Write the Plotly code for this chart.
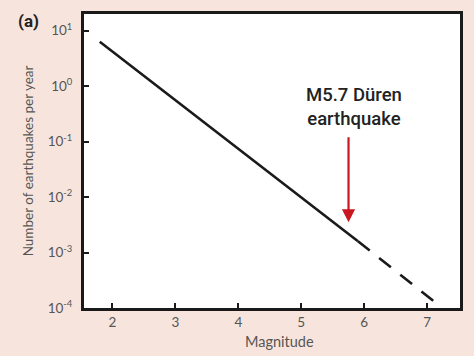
import numpy as np
import plotly.graph_objects as go

# Data (Gutenberg-Richter relation)
mag_solid = [1.8, 5.9]
rate_solid = [6.3, 0.0016]
mag_dash = [5.9, 7.13]
rate_dash = [0.0016, 0.000125]

x_ticks = [2, 3, 4, 5, 6, 7]
y_tickvals = [1e-4, 1e-3, 1e-2, 1e-1, 1e0, 1e1]
y_ticktext = ["10<sup>-4</sup>", "10<sup>-3</sup>", "10<sup>-2</sup>",
              "10<sup>-1</sup>", "10<sup>0</sup>", "10<sup>1</sup>"]

event_mag = 5.75
event_label = "M5.7 Düren<br>earthquake"

bg = "#f7e5dd"
tickfont = dict(family="Lato, sans-serif", size=13.5, color="#555555")

fig = go.Figure()
fig.add_trace(go.Scatter(x=mag_solid, y=rate_solid, mode="lines",
                         line=dict(color="#1a1a1a", width=2.6), showlegend=False))
fig.add_trace(go.Scatter(x=mag_dash, y=rate_dash, mode="lines",
                         line=dict(color="#1a1a1a", width=2.6, dash="15px,12px"),
                         showlegend=False))

fig.update_layout(
    width=474, height=356,
    margin=dict(l=84, r=11, t=13, b=48),
    paper_bgcolor=bg, plot_bgcolor="white",
    xaxis=dict(range=[1.55, 7.52], tickvals=x_ticks, ticks="inside", ticklen=5,
               tickwidth=2, tickcolor="#1a1a1a", showgrid=False, zeroline=False,
               showline=True, linewidth=3, linecolor="#1a1a1a", mirror=True,
               tickfont=tickfont),
    yaxis=dict(type="log", range=[-4, 1.3], tickvals=y_tickvals, ticktext=y_ticktext,
               ticks="inside", ticklen=5, tickwidth=2, tickcolor="#1a1a1a",
               showgrid=False, zeroline=False, showline=True, linewidth=3,
               linecolor="#1a1a1a", mirror=True, tickfont=tickfont,
               ticklabelstandoff=6),
    annotations=[
        dict(text="Magnitude", xref="paper", yref="paper", x=0.52, y=-0.115,
             yanchor="middle", showarrow=False,
             font=dict(family="Lato, sans-serif", size=14.5, color="#555555")),
        dict(text="Number of earthquakes per year", xref="paper", yref="paper",
             x=-0.148, y=0.5, textangle=-90, xanchor="center", yanchor="middle",
             showarrow=False,
             font=dict(family="Lato, sans-serif", size=13.5, color="#555555")),
        dict(text="<b>(a)</b>", xref="paper", yref="paper", x=-0.148, y=0.975,
             xanchor="center", yanchor="middle", showarrow=False,
             font=dict(family="Roboto, sans-serif", size=17, color="#222222")),
        dict(text=event_label, xref="x", yref="paper", x=event_mag + 0.08, y=0.685,
             xanchor="center", yanchor="middle", showarrow=False,
             font=dict(family="Roboto, sans-serif", size=18.5, color="#222222",
                       weight=500)),
        dict(text="", xref="x", yref="y", x=event_mag, y=np.log10(0.0035),
             axref="x", ayref="y", ax=event_mag, ay=np.log10(0.128),
             showarrow=True, arrowhead=2, arrowsize=1.2, arrowwidth=2.2,
             arrowcolor="#c8171f"),
    ],
)

fig.write_html("out.html")
